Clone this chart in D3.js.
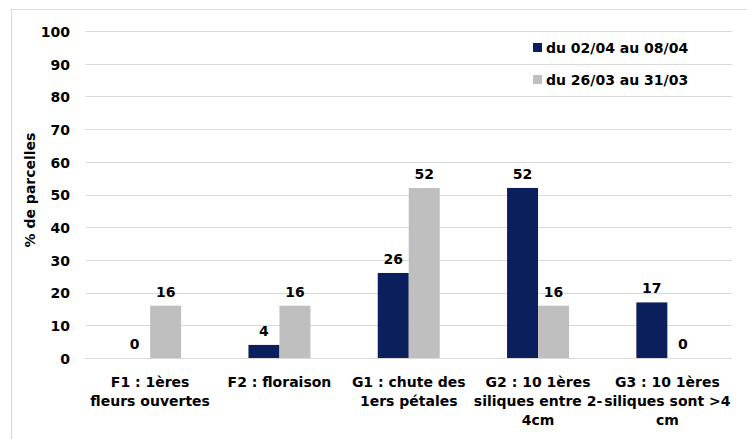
<!DOCTYPE html>
<html><head><meta charset="utf-8">
<script src="https://cdn.jsdelivr.net/npm/d3@7"></script>
<style>body{margin:0;background:#fff}svg{display:block}text{font-family:"DejaVu Sans",sans-serif;font-weight:bold;fill:#000}</style>
</head><body><svg width="747" height="439"></svg>
<script>
const categories = [
  ["F1 : 1ères", "fleurs ouvertes"],
  ["F2 : floraison"],
  ["G1 : chute des", "1ers pétales"],
  ["G2 : 10 1ères", "siliques entre 2-", "4cm"],
  ["G3 : 10 1ères", "siliques sont >4", "cm"]
];
const seriesNames = ["du 02/04 au 08/04", "du 26/03 au 31/03"];
const seriesA = [0, 4, 26, 52, 17];
const seriesB = [16, 16, 52, 16, 0];
const yTicks = [0,10,20,30,40,50,60,70,80,90,100];
const colors = ["#0b1f5c", "#bfbfbf"];

(function(){
const FS = "14px";
const svg = d3.select("svg");
svg.append("rect").attr("x",11.5).attr("y",9.5).attr("width",760).attr("height",460)
  .attr("fill","#fff").attr("stroke","#d9d9d9");

const pLeft = 85.5, pRight = 732, pTop = 31, pBottom = 358;
const x0 = d3.scaleBand().domain(d3.range(categories.length)).range([pLeft,pRight]).paddingInner(0).paddingOuter(0);
const bw = 31;
const y = d3.scaleLinear().domain([0,100]).range([pBottom, pTop]);

svg.append("g").selectAll("line").data(yTicks).join("line")
  .attr("x1",pLeft).attr("x2",pRight)
  .attr("y1",d=>Math.round(y(d))+0.5).attr("y2",d=>Math.round(y(d))+0.5)
  .attr("stroke","#d9d9d9").attr("stroke-width",1);

const yAxis = d3.axisLeft(y).tickValues(yTicks).tickSize(0).tickPadding(0);
const ya = svg.append("g").attr("transform",`translate(70,0)`).call(yAxis);
ya.select(".domain").remove();
ya.attr("font-family",null).attr("font-size",null);
ya.selectAll("text").style("font-size",FS).attr("dy","0.38em");

svg.append("text").attr("transform","translate(35,190) rotate(-90)")
  .attr("text-anchor","middle").style("font-size",FS).text("% de parcelles");

const series = [seriesA, seriesB];
series.forEach((vals, si) => {
  const g = svg.append("g");
  g.selectAll("rect").data(vals).join("rect")
    .attr("x",(d,i)=>x0(i)+x0.bandwidth()/2 - bw + si*bw)
    .attr("width",bw)
    .attr("y",d=>y(d)).attr("height",d=>pBottom - y(d))
    .attr("fill",colors[si]);
  g.selectAll("text").data(vals).join("text")
    .attr("x",(d,i)=>x0(i)+x0.bandwidth()/2 - bw/2 + si*bw)
    .attr("y",d=>y(d)-9)
    .attr("text-anchor","middle").style("font-size",FS).text(d=>d);
});

categories.forEach((lines,i)=>{
  const cx = x0(i)+x0.bandwidth()/2;
  const t = svg.append("text").attr("text-anchor","middle").style("font-size",FS)
    .attr("x", cx).attr("y",387);
  lines.forEach((l,j)=> t.append("tspan").attr("x",cx).attr("dy", j===0?0:19).text(l));
});

svg.append("line").attr("x1",pLeft).attr("x2",pRight).attr("y1",pBottom+0.5).attr("y2",pBottom+0.5).attr("stroke","#d9d9d9");

seriesNames.forEach((n,i)=>{
  const ly = 47.5 + i*32;
  svg.append("rect").attr("x",533).attr("y",ly-4.5).attr("width",9).attr("height",9).attr("fill",colors[i]);
  svg.append("text").attr("x",546).attr("y",ly).attr("dy","0.38em").style("font-size",FS).text(n);
});
})();
</script></body></html>
